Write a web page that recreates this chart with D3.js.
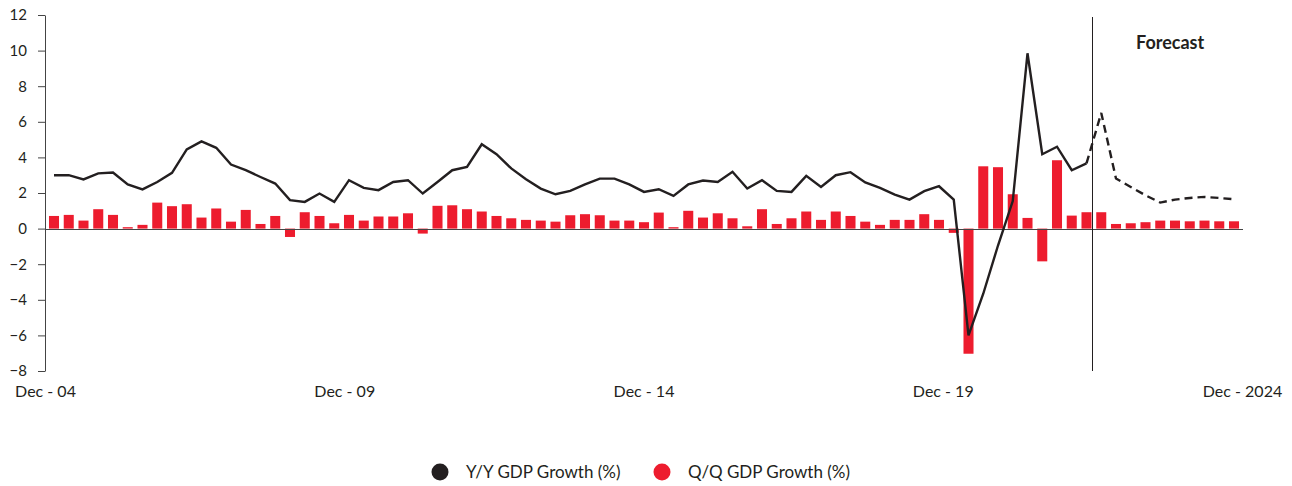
<!DOCTYPE html>
<html>
<head>
<meta charset="utf-8">
<script src="https://cdn.jsdelivr.net/npm/d3@7"></script>
<style>
  body { margin: 0; background: #fff; }
  svg text { font-family: Lato, "Noto Sans", sans-serif; fill: #231f20; }
</style>
</head>
<body>
<svg id="chart" width="1292" height="486"></svg>
<script>
// Y/Y GDP growth (%), quarterly Dec-04 .. Dec-24 (index 70 onward = forecast)
const yoy = [
  3.0, 3.0, 2.76, 3.1, 3.15, 2.48, 2.2, 2.62, 3.13, 4.45,
  4.9, 4.54, 3.6, 3.28, 2.9, 2.53, 1.6, 1.5, 1.97, 1.5,
  2.72, 2.29, 2.16, 2.62, 2.72, 1.97, 2.62, 3.28, 3.47, 4.74,
  4.18, 3.38, 2.77, 2.25, 1.93, 2.12, 2.48, 2.81, 2.81, 2.48,
  2.06, 2.21, 1.84, 2.48, 2.7, 2.62, 3.19, 2.25, 2.72, 2.12,
  2.06, 2.96, 2.34, 3.0, 3.17, 2.59, 2.29, 1.91, 1.63, 2.1,
  2.38, 1.63, -6.0, -3.66, -0.95, 1.55, 9.85, 4.18, 4.6, 3.28,
  3.66, 6.5, 2.81, 2.34, 1.87, 1.46, 1.63, 1.72, 1.78, 1.72, 1.65
];
// Q/Q GDP growth (%)
const qoq = [
  0.71, 0.77, 0.45, 1.09, 0.77, 0.08, 0.21, 1.46, 1.26, 1.37,
  0.62, 1.13, 0.39, 1.05, 0.26, 0.71, -0.47, 0.92, 0.71, 0.3,
  0.77, 0.45, 0.68, 0.68, 0.86, -0.28, 1.28, 1.31, 1.09, 0.96,
  0.71, 0.58, 0.49, 0.45, 0.39, 0.75, 0.81, 0.75, 0.45, 0.45,
  0.36, 0.9, 0.08, 1.0, 0.62, 0.86, 0.58, 0.13, 1.09, 0.26,
  0.58, 0.96, 0.49, 0.96, 0.71, 0.39, 0.21, 0.49, 0.49, 0.81,
  0.49, -0.24, -7.03, 3.5, 3.45, 1.93, 0.6, -1.84, 3.84, 0.73,
  0.92, 0.92, 0.26, 0.3, 0.36, 0.45, 0.45, 0.41, 0.45, 0.41, 0.41
];
const forecastStart = 70; // last actual quarter
const xTickIndex = [0, 20, 40, 60, 80];
const xTickLabels = ["Dec - 04", "Dec - 09", "Dec - 14", "Dec - 19", "Dec - 2024"];
const yTicks = [-8, -6, -4, -2, 0, 2, 4, 6, 8, 10, 12];
const legendItems = [
  { label: "Y/Y GDP Growth (%)", color: "#231f20" },
  { label: "Q/Q GDP Growth (%)", color: "#ed1c2e" }
];

const RED = "#ed1c2e";
const BLACK = "#231f20";
const plotLeft = 45, plotRight = 1243, plotTop = 15, plotBottom = 371;

const svg = d3.select("#chart");

const x = d3.scaleBand()
  .domain(d3.range(qoq.length))
  .range([plotLeft, plotRight])
  .paddingInner(0.32)
  .paddingOuter(0.27);
const cx = i => x(i) + x.bandwidth() / 2;

// label positions run across the full axis
const xLab = d3.scaleLinear().domain([0, qoq.length - 1]).range([plotLeft, plotRight - 1]);

const y = d3.scaleLinear().domain([-8, 12]).range([plotBottom, plotTop]);

// y axis
const yAxis = svg.append("g")
  .attr("transform", `translate(${plotLeft},0)`)
  .call(d3.axisLeft(y).tickValues(yTicks).tickSize(7).tickSizeOuter(0).tickPadding(11));
yAxis.select(".domain").attr("stroke", "#444");
yAxis.selectAll(".tick line").attr("stroke", "#444");
yAxis.selectAll(".tick text").style("font-size", "15px").style("font-family", "Lato");

// x labels
const xAxis = svg.append("g")
  .attr("transform", `translate(0,${plotBottom})`)
  .call(d3.axisBottom(xLab).tickValues(xTickIndex).tickSize(0).tickPadding(15)
    .tickFormat((d, i) => xTickLabels[i]));
xAxis.select(".domain").remove();
xAxis.selectAll(".tick text").style("font-size", "16px").style("font-family", "Lato");

// bars
svg.append("g").selectAll("rect")
  .data(qoq)
  .join("rect")
  .attr("x", (d, i) => x(i))
  .attr("width", x.bandwidth())
  .attr("y", d => y(Math.max(0, d)))
  .attr("height", d => Math.abs(y(d) - y(0)))
  .attr("fill", RED);

// zero line
const y0 = Math.round(y(0)) + 0.5;
svg.append("line")
  .attr("x1", plotLeft).attr("x2", plotRight)
  .attr("y1", y0).attr("y2", y0)
  .attr("stroke", "#444").attr("stroke-width", 1);

// forecast divider
const fx = Math.round(x(forecastStart) + x.bandwidth()) + 0.5;
svg.append("line")
  .attr("x1", fx).attr("x2", fx)
  .attr("y1", y(12) + 2).attr("y2", plotBottom)
  .attr("stroke", BLACK).attr("stroke-width", 1);

svg.append("text")
  .attr("x", 1136).attr("y", 49)
  .style("font-size", "18px").style("font-weight", "bold")
  .text("Forecast");

// lines
const line = d3.line().x(d => cx(d.i)).y(d => y(d.v));
const pts = yoy.map((v, i) => ({ i, v }));

svg.append("path")
  .datum(pts.filter(d => d.i <= forecastStart))
  .attr("d", line)
  .attr("fill", "none").attr("stroke", BLACK).attr("stroke-width", 2.4)
  .attr("stroke-linejoin", "miter");

svg.append("path")
  .datum(pts.filter(d => d.i >= forecastStart))
  .attr("d", line)
  .attr("fill", "none").attr("stroke", BLACK).attr("stroke-width", 2.4)
  .attr("stroke-dasharray", "8,5");

// legend
const legendX = [440, 662];
const lg = svg.append("g");
legendItems.forEach((item, i) => {
  lg.append("circle")
    .attr("cx", legendX[i]).attr("cy", 472).attr("r", 8.5)
    .attr("fill", item.color);
  lg.append("text")
    .attr("x", legendX[i] + 26).attr("y", 472).attr("dy", "0.35em")
    .style("font-size", "17px")
    .text(item.label);
});
</script>
</body>
</html>
